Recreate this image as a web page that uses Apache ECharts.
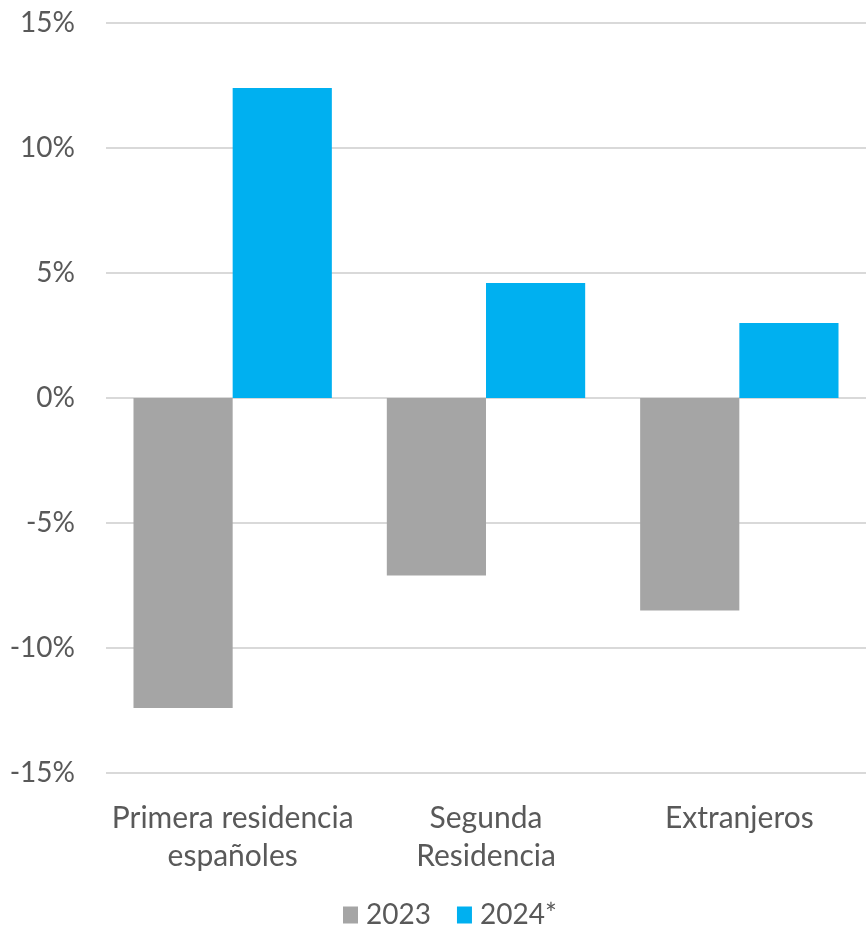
<!DOCTYPE html>
<html>
<head>
<meta charset="utf-8">
<script src="https://cdn.jsdelivr.net/npm/echarts@6/dist/echarts.min.js"></script>
<style>
  html, body { margin: 0; padding: 0; background: #ffffff; }
  #chart { width: 866px; height: 926px; }
</style>
</head>
<body>
<div id="chart"></div>
<script>
// Variación anual por tipo de comprador (%)
const categories = ['Primera residencia\nespañoles', 'Segunda\nResidencia', 'Extranjeros'];
const seriesNames = ['2023', '2024*'];
const values2023 = [-12.4, -7.1, -8.5];
const values2024 = [12.4, 4.6, 3.0];
const colors = ['#a5a5a5', '#00b0f0'];

const FONT = 'Lato';
const TEXT = '#595959';

const chart = echarts.init(document.getElementById('chart'), null, { renderer: 'canvas' });
chart.setOption({
  animation: false,
  textStyle: { fontFamily: FONT },
  grid: { left: 106, top: 23, width: 763, height: 750, containLabel: false },
  legend: {
    top: 896,
    left: 338,
    itemWidth: 15,
    itemHeight: 17,
    itemGap: 26,
    icon: 'rect',
    textStyle: { fontFamily: FONT, fontSize: 28, color: TEXT, padding: [0, 0, 0, 3] },
    data: seriesNames
  },
  xAxis: {
    type: 'category',
    data: categories,
    axisLine: { show: false },
    axisTick: { show: false },
    axisLabel: {
      color: TEXT, fontFamily: FONT, fontSize: 30, lineHeight: 38,
      margin: 26, interval: 0
    }
  },
  yAxis: {
    type: 'value',
    min: -15, max: 15, interval: 5,
    axisLine: { show: false },
    axisTick: { show: false },
    axisLabel: {
      color: TEXT, fontFamily: FONT, fontSize: 28, margin: 31,
      formatter: v => v + '%'
    },
    splitLine: { lineStyle: { color: '#d9d9d9', width: 2 } }
  },
  series: [
    {
      name: seriesNames[0], type: 'bar', data: values2023,
      itemStyle: { color: colors[0] },
      barGap: '0%', barCategoryGap: '21.7%'
    },
    {
      name: seriesNames[1], type: 'bar', data: values2024,
      itemStyle: { color: colors[1] },
      barGap: '0%', barCategoryGap: '21.7%'
    }
  ]
});
</script>
</body>
</html>
